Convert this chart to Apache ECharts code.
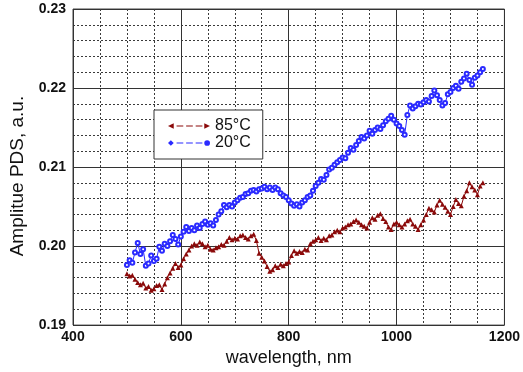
<!DOCTYPE html>
<html>
<head>
<meta charset="utf-8">
<script src="https://cdn.jsdelivr.net/npm/echarts@6/dist/echarts.min.js"></script>
<style>
  html, body { margin: 0; padding: 0; background: #fff; }
  #chart { width: 523px; height: 372px; }
</style>
</head>
<body>
<div id="chart"></div>
<script type="text/javascript">
    // wavelength grid, nm
    var wavelength = [
        500,505,510,515,520,525,530,535,540,545,550,555,560,565,570,575,580,585,590,595,
        600,605,610,615,620,625,630,635,640,645,650,655,660,665,670,675,680,685,690,695,
        700,705,710,715,720,725,730,735,740,745,750,755,760,765,770,775,780,785,790,795,
        800,805,810,815,820,825,830,835,840,845,850,855,860,865,870,875,880,885,890,895,
        900,905,910,915,920,925,930,935,940,945,950,955,960,965,970,975,980,985,990,995,
        1000,1005,1010,1015,1020,1025,1030,1035,1040,1045,1050,1055,1060,1065,1070,1075,1080,1085,1090,1095,
        1100,1105,1110,1115,1120,1125,1130,1135,1140,1145,1150,1155,1160
    ];
    // 85°C
    var pds85 = [
        0.1965,0.1962,0.1963,0.1958,0.1954,0.1951,0.1953,0.1947,0.1949,0.1944,0.1946,0.1950,0.1951,0.1945,0.1952,0.1960,0.1966,0.1972,0.1978,0.1973,
        0.1976,0.1984,0.1990,0.1995,0.2000,0.2003,0.2001,0.2005,0.2003,0.1999,0.2001,0.1996,0.1995,0.1998,0.1999,0.2002,0.2001,0.2006,0.2011,0.2008,
        0.2010,0.2009,0.2013,0.2014,0.2011,0.2009,0.2013,0.2015,0.2007,0.1991,0.1986,0.1981,0.1974,0.1968,0.1970,0.1975,0.1973,0.1977,0.1975,0.1978,
        0.1980,0.1988,0.1994,0.1991,0.1993,0.1992,0.1996,0.1995,0.2003,0.2006,0.2008,0.2011,0.2007,0.2010,0.2008,0.2013,0.2014,0.2018,0.2020,0.2018,
        0.2023,0.2024,0.2027,0.2028,0.2031,0.2033,0.2030,0.2027,0.2025,0.2023,0.2030,0.2036,0.2034,0.2039,0.2041,0.2035,0.2031,0.2024,0.2021,0.2028,
        0.2030,0.2027,0.2024,0.2028,0.2032,0.2034,0.2028,0.2025,0.2021,0.2027,0.2033,0.2040,0.2048,0.2046,0.2043,0.2052,0.2058,0.2053,0.2049,0.2044,
        0.2040,0.2050,0.2059,0.2054,0.2051,0.2063,0.2070,0.2080,0.2075,0.2071,0.2065,0.2076,0.2080
    ];
    // 20°C
    var pds20 = [
        0.1976,0.1982,0.1979,0.1992,0.2004,0.1990,0.1996,0.1975,0.1978,0.1988,0.1981,0.1984,0.1999,0.1994,0.2003,0.2000,0.2006,0.2014,0.2009,0.2002,
        0.2012,0.2018,0.2024,0.2019,0.2023,0.2020,0.2026,0.2023,0.2028,0.2031,0.2027,0.2029,0.2026,0.2033,0.2040,0.2044,0.2052,0.2049,0.2052,0.2050,
        0.2055,0.2058,0.2061,0.2062,0.2066,0.2067,0.2070,0.2071,0.2069,0.2072,0.2073,0.2075,0.2072,0.2074,0.2071,0.2074,0.2072,0.2067,0.2064,0.2062,
        0.2058,0.2054,0.2051,0.2053,0.2050,0.2055,0.2058,0.2062,0.2064,0.2070,0.2076,0.2080,0.2085,0.2084,0.2090,0.2097,0.2099,0.2103,0.2106,0.2109,
        0.2112,0.2111,0.2118,0.2124,0.2122,0.2128,0.2133,0.2138,0.2136,0.2140,0.2146,0.2142,0.2147,0.2150,0.2148,0.2153,0.2158,0.2161,0.2165,0.2160,
        0.2155,0.2152,0.2147,0.2141,0.2166,0.2178,0.2174,0.2177,0.2180,0.2179,0.2182,0.2185,0.2183,0.2190,0.2197,0.2191,0.2185,0.2178,0.2181,0.2192,
        0.2195,0.2200,0.2203,0.2199,0.2208,0.2212,0.2218,0.2210,0.2204,0.2213,0.2216,0.2220,0.2224
    ];
    var seriesNames = ['85°C', '20°C'];

    function pairs(ys) {
        var out = [];
        for (var i = 0; i < wavelength.length; i++) {
            out.push([wavelength[i], ys[i]]);
        }
        return out;
    }

    var font = '"Liberation Sans", Arial, sans-serif';
    var red = '#8b0a0a';
    var blue = '#2a2aff';

    var myChart = echarts.init(document.getElementById('chart'), null, {renderer: 'canvas'});
    myChart.setOption({
        animation: false,
        backgroundColor: '#fff',
        grid: {
            left: 72, right: 14, top: 9, bottom: 43,
            show: true, borderColor: '#444', borderWidth: 1, backgroundColor: 'transparent'
        },
        legend: {
            orient: 'vertical',
            left: 154, top: 110,
            backgroundColor: '#fff',
            borderColor: '#333', borderWidth: 1, borderRadius: 0,
            padding: [8, 12, 8, 14],
            itemGap: 1,
            itemWidth: 42, itemHeight: 7,
            textStyle: {fontFamily: font, fontSize: 16, color: '#111', lineHeight: 16},
            data: [
                {name: seriesNames[0], icon: 'path://M0,4L6,1L6,7Z M9,3.5h7v1h-7Z M19,3.5h7v1h-7Z M29,3.5h7v1h-7Z M38,1L44,4L38,7Z'},
                {name: seriesNames[1], icon: 'path://M0,4L3,1L6,4L3,7Z M9,3.5h7v1h-7Z M19,3.5h7v1h-7Z M29,3.5h7v1h-7Z M38,4A3,3 0 1,1 44,4A3,3 0 1,1 38,4Z'}
            ]
        },
        xAxis: {
            type: 'value',
            min: 400, max: 1200, interval: 200,
            name: 'wavelength, nm',
            nameLocation: 'middle',
            nameGap: 19,
            nameTextStyle: {fontFamily: font, fontSize: 18, color: '#111'},
            axisLine: {show: false},
            axisTick: {show: false},
            axisLabel: {
                margin: 5, fontFamily: font, fontSize: 14, fontWeight: 'bold', color: '#111',
                formatter: function (v) { return String(v); }
            },
            splitLine: {show: true, lineStyle: {color: '#333', width: 1}},
            minorTick: {show: false, splitNumber: 4},
            minorSplitLine: {show: true, lineStyle: {color: '#3a3a3a', width: 1, type: [2, 2]}}
        },
        yAxis: {
            type: 'value',
            min: 0.19, max: 0.23, interval: 0.01,
            name: 'Amplitue PDS, a.u.',
            nameLocation: 'middle',
            nameGap: 46,
            nameRotate: 90,
            nameTextStyle: {fontFamily: font, fontSize: 19, color: '#111', padding: [0, 18, 0, 0]},
            axisLine: {show: false},
            axisTick: {show: false},
            axisLabel: {
                margin: 7, fontFamily: font, fontSize: 14, fontWeight: 'bold', color: '#111',
                formatter: function (v) { return v.toFixed(2); }
            },
            splitLine: {show: true, lineStyle: {color: '#333', width: 1}},
            minorTick: {show: false, splitNumber: 5},
            minorSplitLine: {show: true, lineStyle: {color: '#3a3a3a', width: 1, type: [2, 2]}}
        },
        series: [
            {
                name: seriesNames[0],
                type: 'line',
                data: pairs(pds85),
                symbol: 'triangle',
                symbolSize: 5,
                itemStyle: {color: red},
                lineStyle: {color: red, width: 1},
                z: 3
            },
            {
                name: seriesNames[1],
                type: 'line',
                data: pairs(pds20),
                symbol: 'emptyCircle',
                symbolSize: 4,
                itemStyle: {color: blue, borderWidth: 0.8},
                lineStyle: {color: blue, width: 1},
                z: 2
            }
        ]
    });
</script>
</body>
</html>
